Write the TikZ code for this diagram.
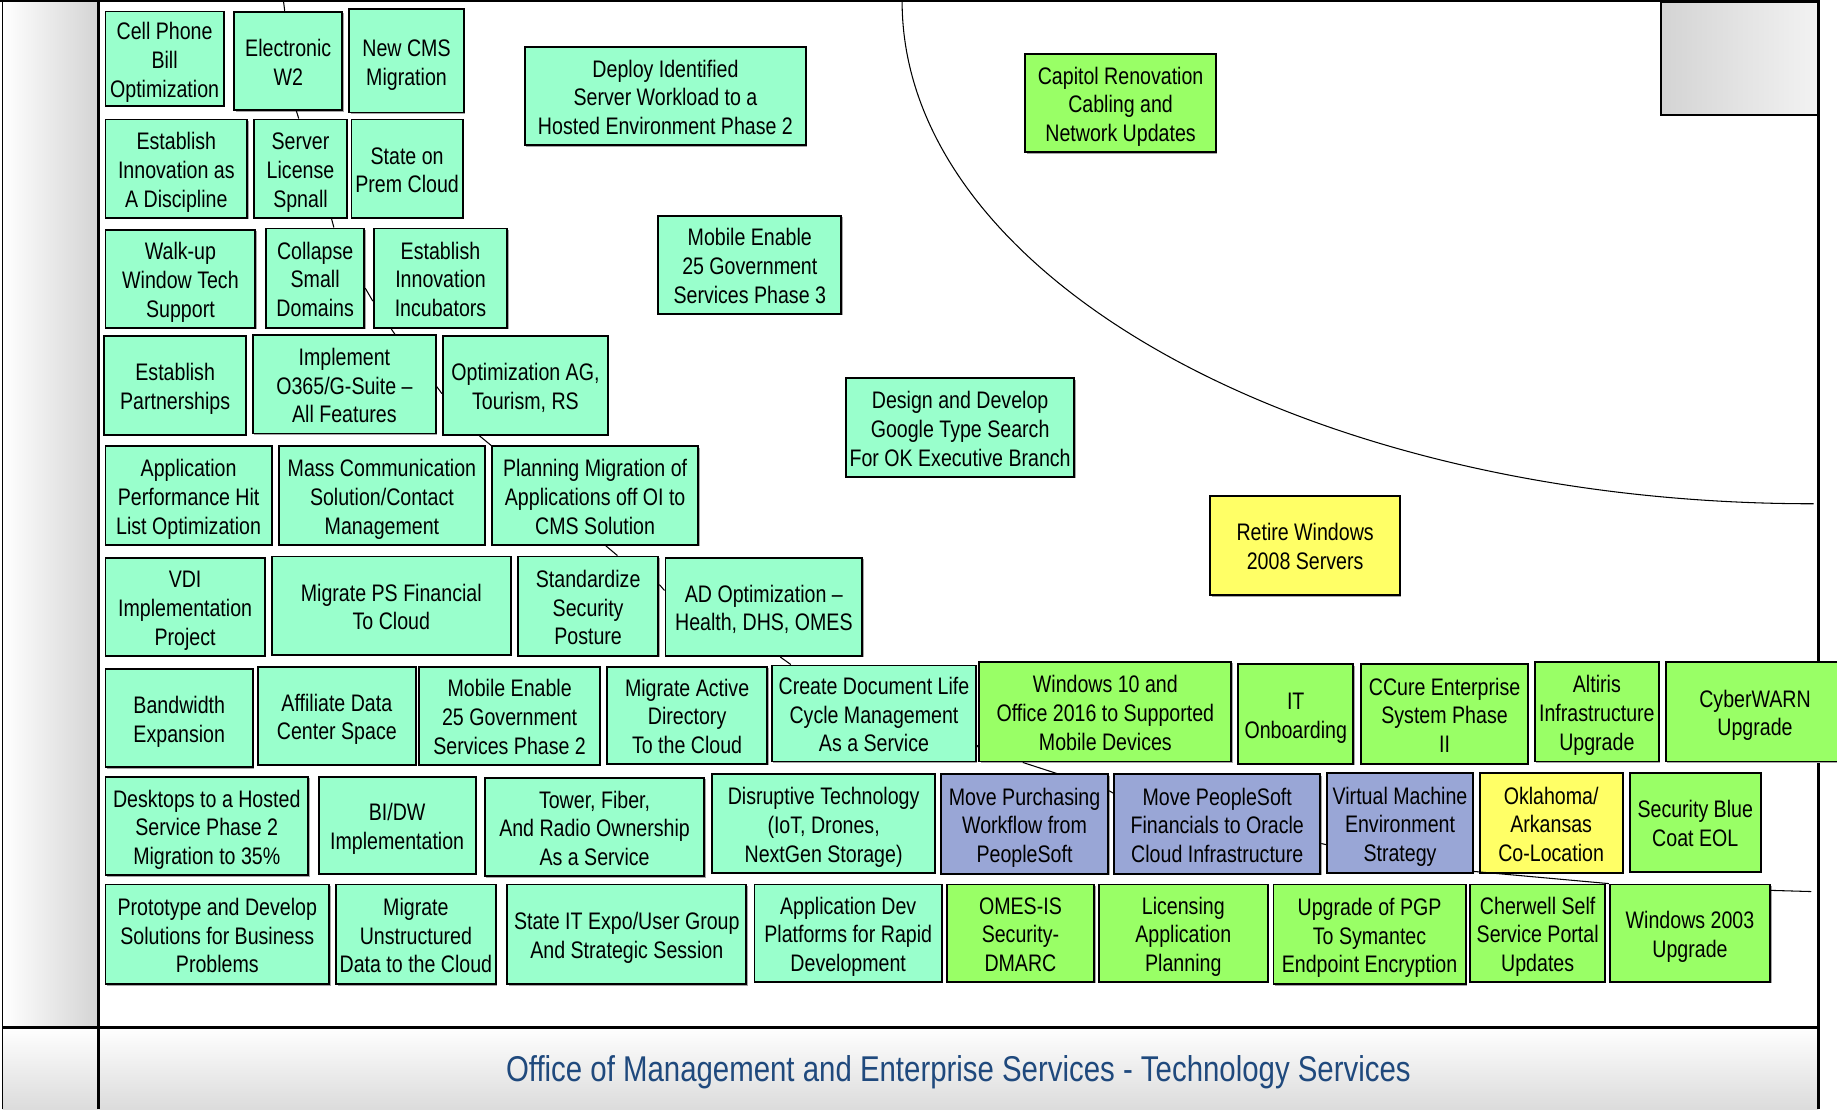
\documentclass[tikz,border=0pt]{standalone}
\usepackage{fontspec}
\usetikzlibrary{calc,shadows}
\newfontfamily\nfont{Liberation Sans}[FakeStretch=0.82]
\definecolor{mintc}{HTML}{99FFCC}
\definecolor{limec}{HTML}{99FF66}
\definecolor{lavc}{HTML}{99A6D6}
\definecolor{yelc}{HTML}{FFFF66}
\definecolor{titlec}{HTML}{1F497D}
\newcommand\boxfont{\nfont\fontsize{10.2pt}{12.25pt}\selectfont}
\newcommand\omesbox[7]{\node[#6, minimum width={(#4-#2)*0.5pt}, minimum height={(#5-#3)*0.5pt}] (#1) at ({(#2+#4)/2},{(#3+#5)/2}) {\begin{tabular}{@{}c@{}}\rule{0pt}{12pt}#7\end{tabular}};}
\tikzset{
  box/.style={draw=black, line width=0.8pt, inner sep=0pt, align=center, font=\boxfont,
    general shadow={fill=black!35, shadow xshift=0.6pt, shadow yshift=-0.6pt}},
  mint/.style={box, fill=mintc},
  lime/.style={box, fill=limec},
  lav/.style={box, fill=lavc},
  yel/.style={box, fill=yelc},
  link/.style={draw=black, line width=0.45pt},
  frame/.style={draw=black, line width=1.1pt}
}
\begin{document}
\begin{tikzpicture}[x=0.5pt,y=-0.5pt]
\useasboundingbox (0,0) rectangle (1568,947);
% backgrounds
\fill[left color=white, right color=black!17] (2,0) rectangle (84,877);
\fill[top color=white, bottom color=black!14] (2,877) rectangle (84,947);
\fill[top color=white, bottom color=black!14] (84,877) rectangle (1552,947);
\draw[line width=0.8pt, left color=black!17, right color=black!5] (1418,2) rectangle (1552,98);
% frame lines
\draw[line width=0.6pt] (2,0) -- (2,947);
\draw[frame] (0,1) -- (1552,1);
\draw[frame] (84,0) -- (84,947);
\draw[frame] (1552,0) -- (1552,947);
\draw[frame] (2,877) -- (1552,877);
% arc
\coordinate (arcS) at (770,1);
\coordinate (arcE) at (1548,430);
\draw[link] (arcS) .. controls (770,238) and (1118,430) .. (arcE);
% title
\node[font=\nfont\fontsize{15.3pt}{18pt}\selectfont, text=titlec] (title) at (818,915) {Office of Management and Enterprise Services - Technology Services};
% row 1
\omesbox{cell}{90}{10}{191}{90}{mint}{Cell Phone\\Bill\\Optimization}
\omesbox{ew2}{200}{10}{292}{94}{mint}{Electronic\\W2}
\omesbox{cms}{298}{8}{396}{96}{mint}{New CMS\\Migration}
\omesbox{deploy}{448}{40}{688}{124}{mint}{Deploy Identified\\Server Workload to a\\Hosted Environment Phase 2}
\omesbox{capitol}{875}{46}{1038}{130}{lime}{Capitol Renovation\\Cabling and\\Network Updates}
% row 2
\omesbox{eiad}{90}{102}{211}{186}{mint}{Establish\\Innovation as\\A Discipline}
\omesbox{sls}{217}{102}{296}{186}{mint}{Server\\License\\Spnall}
\omesbox{sopc}{300}{102}{395}{186}{mint}{State on\\Prem Cloud}
% row 3
\omesbox{walk}{90}{196}{218}{280}{mint}{Walk-up\\Window Tech\\Support}
\omesbox{coll}{227}{195}{311}{280}{mint}{Collapse\\Small\\Domains}
\omesbox{incub}{319}{195}{433}{280}{mint}{Establish\\Innovation\\Incubators}
\omesbox{mob3}{562}{184}{718}{268}{mint}{Mobile Enable\\25 Government\\Services Phase 3}
% row 4
\omesbox{part}{89}{287}{210}{371}{mint}{Establish\\Partnerships}
\omesbox{impl}{216}{286}{372}{370}{mint}{Implement\\O365/G-Suite –\\All Features}
\omesbox{optag}{378}{287}{519}{371}{mint}{Optimization AG,\\Tourism, RS}
\omesbox{gsearch}{722}{323}{917}{407}{mint}{Design and Develop\\Google Type Search\\For OK Executive Branch}
% row 5
\omesbox{aphl}{90}{381}{232}{465}{mint}{Application\\Performance Hit\\List Optimization}
\omesbox{mass}{238}{381}{414}{465}{mint}{Mass Communication\\Solution/Contact\\Management}
\omesbox{plan}{420}{381}{596}{465}{mint}{Planning Migration of\\Applications off OI to\\CMS Solution}
\omesbox{retire}{1033}{423}{1195}{508}{yel}{Retire Windows\\2008 Servers}
% row 6
\omesbox{vdi}{90}{476}{226}{560}{mint}{VDI\\Implementation\\Project}
\omesbox{mpsf}{232}{475}{436}{559}{mint}{Migrate PS Financial\\To Cloud}
\omesbox{std}{442}{475}{562}{560}{mint}{Standardize\\Security\\Posture}
\omesbox{ad}{568}{476}{736}{560}{mint}{AD Optimization –\\Health, DHS, OMES}
% row 7
\omesbox{bw}{90}{571}{216}{655}{mint}{Bandwidth\\Expansion}
\omesbox{adcs}{220}{569}{355}{653}{mint}{Affiliate Data\\Center Space}
\omesbox{mob2}{358}{569}{512}{653}{mint}{Mobile Enable\\25 Government\\Services Phase 2}
\omesbox{mad}{518}{569}{655}{652}{mint}{Migrate Active\\Directory\\To the Cloud}
\omesbox{cdoc}{659}{568}{833}{650}{mint}{Create Document Life\\Cycle Management\\As a Service}
\omesbox{win10}{836}{565}{1051}{650}{lime}{Windows 10 and\\Office 2016 to Supported\\Mobile Devices}
\omesbox{itob}{1057}{567}{1155}{652}{lime}{IT\\Onboarding}
\omesbox{ccure}{1162}{567}{1304}{652}{lime}{CCure Enterprise\\System Phase\\II}
\omesbox{alt}{1310}{565}{1416}{650}{lime}{Altiris\\Infrastructure\\Upgrade}
\omesbox{cyber}{1422}{565}{1574}{650}{lime}{CyberWARN\\Upgrade}
% row 8
\omesbox{desk}{90}{663}{263}{747}{mint}{Desktops to a Hosted\\Service Phase 2\\Migration to 35\%}
\omesbox{bidw}{272}{663}{406}{746}{mint}{BI/DW\\Implementation}
\omesbox{tower}{414}{664}{601}{748}{mint}{Tower, Fiber,\\And Radio Ownership\\As a Service}
\omesbox{disr}{608}{661}{798}{745}{mint}{Disruptive Technology\\(IoT, Drones,\\NextGen Storage)}
\omesbox{mp}{803}{661}{946}{746}{lav}{Move Purchasing\\Workflow from\\PeopleSoft}
\omesbox{mps}{951}{661}{1127}{746}{lav}{Move PeopleSoft\\Financials to Oracle\\Cloud Infrastructure}
\omesbox{vm}{1133}{660}{1257}{745}{lav}{Virtual Machine\\Environment\\Strategy}
\omesbox{okar}{1263}{660}{1385}{745}{yel}{Oklahoma/\\Arkansas\\Co-Location}
\omesbox{sbc}{1391}{660}{1503}{744}{lime}{Security Blue\\Coat EOL}
% row 9
\omesbox{proto}{90}{755}{281}{840}{mint}{Prototype and Develop\\Solutions for Business\\Problems}
\omesbox{mud}{287}{755}{423}{840}{mint}{Migrate\\Unstructured\\Data to the Cloud}
\omesbox{expo}{433}{755}{637}{840}{mint}{State IT Expo/User Group\\And Strategic Session}
\omesbox{adp}{644}{755}{804}{838}{mint}{Application Dev\\Platforms for Rapid\\Development}
\omesbox{dmarc}{808}{755}{934}{838}{lime}{OMES-IS\\Security-\\DMARC}
\omesbox{lic}{938}{755}{1082}{838}{lime}{Licensing\\Application\\Planning}
\omesbox{pgp}{1087}{755}{1251}{840}{lime}{Upgrade of PGP\\To Symantec\\Endpoint Encryption}
\omesbox{cher}{1255}{755}{1370}{838}{lime}{Cherwell Self\\Service Portal\\Updates}
\omesbox{w2003}{1374}{755}{1511}{838}{lime}{Windows 2003\\Upgrade}
% connectors
\coordinate (topA) at (242,1);
\draw[link] (topA) -- ($(ew2.north)+(-3,0)$);
\draw[link] ($(ew2.south)+(7,0)$) -- ($(sls.north)+(-1.5,0)$);
\draw[link] ($(sls.south)+(26.5,0)$) -- ($(coll.north)+(16,0)$);
\draw[link] ($(coll.east)+(0,8.5)$) -- ($(incub.west)+(0,19.5)$);
\draw[link] ($(incub.south)+(-42,0)$) -- ($(impl.north)+(43,0)$);
\draw[link] ($(impl.east)+(0,2)$) -- ($(optag.west)+(0,7)$);
\draw[link] ($(optag.south)+(-39.5,0)$) -- (plan.north west);
\draw[link] ($(plan.south)+(9,0)$) -- ($(std.north)+(25,0)$);
\draw[link] ($(std.east)+(0,-18.5)$) -- ($(ad.west)+(0,-14)$);
\draw[link] ($(ad.south)+(14,0)$) -- ($(cdoc.north)+(-71,0)$);
\draw[link] ($(cdoc.east)+(0,27)$) -- ($(win10.west)+(0,30.5)$);
\draw[link] ($(win10.south)+(-70.5,0)$) -- ($(mp.north)+(27.5,0)$);
\draw[link] ($(mp.east)+(0,-28.5)$) -- ($(mps.west)+(0,-26.5)$);
\draw[link] ($(mps.east)+(0,16.5)$) -- ($(vm.west)+(0,18.5)$);
\draw[link] ($(vm.south east)+(0,-2)$) -- (w2003.north west);
\coordinate (endR) at (1546,761);
\draw[link] ($(w2003.east)+(0,-36.5)$) -- (endR);
\end{tikzpicture}
\end{document}
